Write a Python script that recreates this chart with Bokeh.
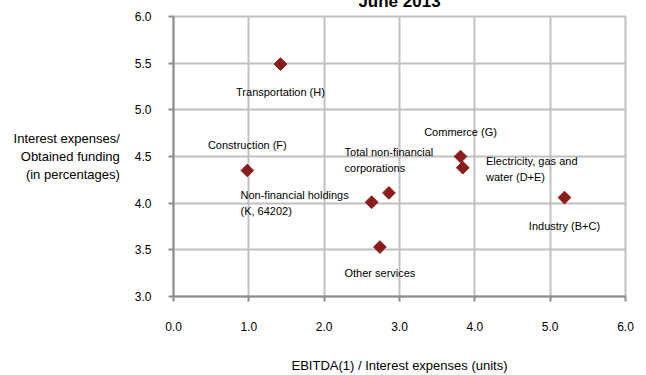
import math
from bokeh.plotting import figure
from bokeh.models import ColumnDataSource, LabelSet, Title, FixedTicker, Range1d, NumeralTickFormatter
from bokeh.core.properties import value
from bokeh.embed import file_html
from bokeh.resources import INLINE

# ---- data ----
sectors = ["Transportation (H)", "Construction (F)", "Commerce (G)",
           "Total non-financial\ncorporations", "Electricity, gas and\nwater (D+E)",
           "Non-financial holdings\n(K, 64202)", "Industry (B+C)", "Other services"]
ebitda_cover = [1.42, 0.98, 3.81, 2.86, 3.84, 2.63, 5.19, 2.74]
interest_rate = [5.49, 4.35, 4.50, 4.11, 4.38, 4.01, 4.06, 3.53]
x_ticks = [0, 1, 2, 3, 4, 5, 6]
y_ticks = [3.0, 3.5, 4.0, 4.5, 5.0, 5.5, 6.0]
title_text = "June 2013"
x_title = "EBITDA(1) / Interest expenses (units)"
y_title = "Interest expenses/\nObtained funding\n(in percentages)"

# label placement (pixel offsets, style only)
label_dx = [0, 0, 0, 0, 69, -77, 0, 0]
label_dy = [-28, 26, 25, 33, -1, -1, -28, -26]

FONT = "Liberation Sans"
GRID = "#c0c0c0"
AXIS = "#8c8c8c"
MARK = "#8b1c1c"

src = ColumnDataSource(dict(x=ebitda_cover, y=interest_rate, name=sectors,
                            dx=label_dx, dy=label_dy))

p = figure(frame_width=452, frame_height=280, width=638, height=390,
           min_border_left=173, min_border_right=13, min_border_top=33,
           min_border_bottom=77, x_range=Range1d(0, 6), y_range=Range1d(3, 6),
           output_backend="svg", toolbar_location=None,
           margin=(-17, 0, -10, 0))

p.background_fill_color = "white"
p.border_fill_color = "white"
p.outline_line_color = GRID
p.outline_line_width = 2

for ax in (p.xaxis[0], p.yaxis[0]):
    ax.axis_line_color = AXIS
    ax.axis_line_width = 2
    ax.major_tick_line_color = AXIS
    ax.major_tick_line_width = 2
    ax.major_tick_out = 5
    ax.major_tick_in = 0
    ax.minor_tick_line_color = None
    ax.major_label_text_font = FONT
    ax.major_label_text_font_size = "12px"
    ax.major_label_text_color = "black"
    ax.axis_label_text_font = FONT
    ax.axis_label_text_font_size = "13px"
    ax.axis_label_text_font_style = "normal"
    ax.axis_label_text_color = "black"

p.xaxis.ticker = FixedTicker(ticks=x_ticks)
p.yaxis.ticker = FixedTicker(ticks=y_ticks)
p.xaxis.formatter = NumeralTickFormatter(format="0.0")
p.yaxis.formatter = NumeralTickFormatter(format="0.0")
p.xaxis.major_label_standoff = 20
p.yaxis.major_label_standoff = 17

p.xaxis.axis_label = x_title
p.xaxis.axis_label_standoff = 24

p.yaxis.axis_label = y_title
p.yaxis.axis_label_orientation = "horizontal"
p.yaxis.axis_label_text_align = "right"
p.yaxis.axis_label_text_line_height = 1.23
p.yaxis.axis_label_standoff = 12

p.xgrid.grid_line_color = GRID
p.ygrid.grid_line_color = GRID
p.xgrid.grid_line_width = 2
p.ygrid.grid_line_width = 2

p.scatter("x", "y", source=src, marker="square", size=9, angle=math.pi / 4,
          fill_color=MARK, line_color=MARK)

labels = LabelSet(x="x", y="y", text="name", source=src,
                  x_offset="dx", y_offset="dy",
                  text_align="center", text_baseline="middle",
                  text_font=value(FONT), text_font_size="11px",
                  text_color="black", text_line_height=1.35)
p.add_layout(labels)

p.add_layout(Title(text=title_text, align="center", text_font=FONT,
                   text_font_size="17px", text_font_style="bold",
                   text_color="black", standoff=11), "above")

open("out.html", "w").write(file_html(p, INLINE))
